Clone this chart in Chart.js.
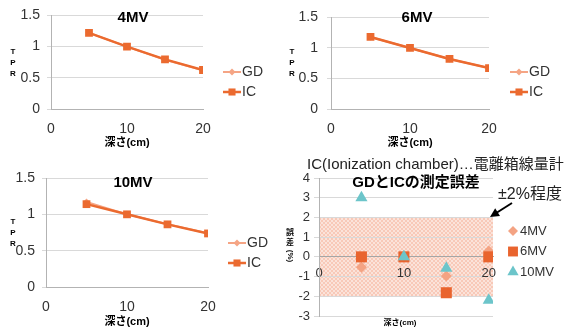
<!DOCTYPE html>
<html>
<head>
<meta charset="utf-8">
<script src="https://cdn.jsdelivr.net/npm/chart.js@4.4.1/dist/chart.umd.min.js"></script>
<style>
body { margin: 0; background: #fff; width: 569px; height: 331px; position: relative; overflow: hidden; }
canvas { position: absolute; }
</style>
</head>
<body>
<canvas id="tpr4" width="285" height="150" style="left:0;top:0"></canvas>
<canvas id="tpr6" width="284" height="150" style="left:285px;top:0"></canvas>
<canvas id="tpr10" width="285" height="181" style="left:0;top:150px"></canvas>
<canvas id="errChart" width="284" height="181" style="left:285px;top:150px"></canvas>
<script>
// depth (cm) and tick values
const depths = [5, 10, 15, 20];
const xTicks = [0, 10, 20];
const tprTicks = [0, 0.5, 1, 1.5];
const errTicks = [-3, -2, -1, 0, 1, 2, 3, 4];

// TPR
const tprGD4 = [1.22, 1.00, 0.79, 0.62];
const tprIC4 = [1.22, 1.00, 0.795, 0.625];
const tprGD6 = [1.18, 1.00, 0.82, 0.67];
const tprIC6 = [1.18, 1.00, 0.82, 0.67];
const tprGD10 = [1.17, 1.00, 0.865, 0.74];
const tprIC10 = [1.14, 1.00, 0.862, 0.737];

// GD vs IC error (%)
const err4 = [-0.53, 0.0, -0.97, 0.30];
const err6 = [0.0, 0.0, -1.82, 0.0];
const err10 = [3.0, 0.0, -0.58, -2.2];
const bandLimits = [-2, 2];

const FAM = "'Liberation Sans', 'Noto Sans CJK JP', Arial, sans-serif";
const TXT = '#333';
const GRID = '#d9d9d9';
const AXIS = '#b3b3b3';
const GD_COLOR = '#F5A585';
const IC_COLOR = '#EB6A2F';
const C4 = '#F4A383', C6 = '#E9642E', C10 = '#6CC5CA';

const pts = ys => depths.map((x, i) => ({ x: x, y: ys[i] }));
const fixTicks = vals => s => { s.ticks = vals.map(v => ({ value: v })); };

function drawMarker(ctx, style, x, y, r) {
    ctx.beginPath();
    if (style === 'rect') {
        const h = r * Math.SQRT1_2;
        ctx.rect(x - h, y - h, 2 * h, 2 * h);
    } else if (style === 'rectRot') {
        ctx.moveTo(x, y - r); ctx.lineTo(x + r, y); ctx.lineTo(x, y + r); ctx.lineTo(x - r, y);
        ctx.closePath();
    } else {
        const a = 2 * Math.PI / 3;
        ctx.moveTo(x, y - r);
        ctx.lineTo(x + Math.sin(a) * r, y - Math.cos(a) * r);
        ctx.lineTo(x + Math.sin(2 * a) * r, y - Math.cos(2 * a) * r);
        ctx.closePath();
    }
    ctx.fill();
}

// legend to the right of the plot
const sideLegend = {
    id: 'sideLegend',
    afterDraw(chart, args, opts) {
        const ctx = chart.ctx;
        ctx.save();
        chart.data.datasets.forEach((ds, i) => {
            const y = opts.y + i * opts.gap;
            let tx = opts.x;
            if (opts.lineLen) {
                ctx.strokeStyle = ds.borderColor;
                ctx.lineWidth = ds.borderWidth;
                ctx.beginPath();
                ctx.moveTo(opts.x, y);
                ctx.lineTo(opts.x + opts.lineLen, y);
                ctx.stroke();
                ctx.fillStyle = ds.backgroundColor;
                drawMarker(ctx, ds.pointStyle, opts.x + opts.lineLen / 2, y, opts.radius[i]);
                tx = opts.x + opts.lineLen + 1;
            } else {
                ctx.fillStyle = ds.backgroundColor;
                drawMarker(ctx, ds.pointStyle, opts.x, y, opts.radius[i]);
                tx = opts.x + 7;
            }
            ctx.fillStyle = TXT;
            ctx.font = opts.font;
            ctx.textAlign = 'left';
            ctx.textBaseline = 'middle';
            ctx.fillText(ds.label, tx, y);
        });
        ctx.restore();
    }
};

// free text and the arrow
const notes = {
    id: 'notes',
    afterDraw(chart, args, opts) {
        const ctx = chart.ctx;
        ctx.save();
        (opts.items || []).forEach(n => {
            ctx.save();
            ctx.font = n.f;
            ctx.fillStyle = n.c || '#000';
            ctx.textAlign = n.a || 'center';
            ctx.textBaseline = 'middle';
            ctx.translate(n.x, n.y);
            if (n.rot) ctx.rotate(n.rot);
            ctx.fillText(n.t, 0, 0);
            ctx.restore();
        });
        if (opts.arrow) {
            const [x1, y1, x2, y2] = opts.arrow;
            const ang = Math.atan2(y2 - y1, x2 - x1);
            ctx.strokeStyle = '#000';
            ctx.fillStyle = '#000';
            ctx.lineWidth = 2;
            ctx.beginPath();
            ctx.moveTo(x1, y1);
            ctx.lineTo(x2 - 6 * Math.cos(ang), y2 - 6 * Math.sin(ang));
            ctx.stroke();
            ctx.beginPath();
            ctx.moveTo(x2, y2);
            ctx.lineTo(x2 - 9 * Math.cos(ang) + 4.5 * Math.sin(ang), y2 - 9 * Math.sin(ang) - 4.5 * Math.cos(ang));
            ctx.lineTo(x2 - 9 * Math.cos(ang) - 4.5 * Math.sin(ang), y2 - 9 * Math.sin(ang) + 4.5 * Math.cos(ang));
            ctx.closePath();
            ctx.fill();
        }
        ctx.restore();
    }
};

// shaded ±2% band
const band = {
    id: 'band',
    beforeDraw(chart, args, opts) {
        const { ctx, chartArea } = chart;
        const ys = chart.scales.y;
        const top = ys.getPixelForValue(opts.limits[1]);
        const bottom = ys.getPixelForValue(opts.limits[0]);
        const c = document.createElement('canvas');
        c.width = 4; c.height = 4;
        const g = c.getContext('2d');
        g.fillStyle = '#F8C9B8';
        g.fillRect(0, 0, 4, 4);
        g.fillStyle = '#FBE3DA';
        g.fillRect(0, 0, 2, 2);
        g.fillRect(2, 2, 2, 2);
        ctx.save();
        ctx.fillStyle = ctx.createPattern(c, 'repeat');
        ctx.fillRect(chartArea.left, top, chartArea.right - chartArea.left, bottom - top);
        ctx.restore();
    }
};

function tprLetters(x, y0) {
    return ['T', 'P', 'R'].map((t, i) => ({ t: t, x: x, y: y0 + i * 11, f: "bold 8px " + FAM }));
}

function makeTpr(id, title, gd, ic, L) {
    return new Chart(document.getElementById(id), {
        type: 'line',
        data: {
            datasets: [
                { label: 'GD', data: pts(gd), borderColor: GD_COLOR, backgroundColor: GD_COLOR, borderWidth: 2,
                  pointStyle: 'rectRot', pointRadius: 3.5, pointBorderWidth: 0, order: 1 },
                { label: 'IC', data: pts(ic), borderColor: IC_COLOR, backgroundColor: IC_COLOR, borderWidth: 2.5,
                  pointStyle: 'rect', pointRadius: 5.5, pointBorderWidth: 0, order: 0 }
            ]
        },
        options: {
            responsive: false,
            animation: false,
            layout: { padding: { left: 0, top: L.top, right: L.right, bottom: 0 } },
            scales: {
                x: {
                    type: 'linear', min: 0, max: 20,
                    afterBuildTicks: fixTicks(xTicks),
                    afterFit: s => { s.height = L.xh; },
                    grid: { display: false, drawTicks: false },
                    border: { color: AXIS },
                    ticks: { padding: L.xpad, color: TXT, font: { size: 14, family: FAM }, maxRotation: 0 },
                    title: { display: true, text: '深さ(cm)', color: '#000',
                             font: { size: 11, weight: 'bold', family: FAM }, padding: { top: 0, bottom: L.tpad } }
                },
                y: {
                    min: 0, max: 1.5,
                    afterBuildTicks: fixTicks(tprTicks),
                    afterFit: s => { s.width = L.left; },
                    grid: { color: GRID, tickLength: 4 },
                    border: { color: AXIS },
                    ticks: { padding: L.ypad, color: TXT, font: { size: 14, family: FAM }, callback: v => String(v) }
                }
            },
            plugins: {
                legend: { display: false },
                tooltip: { enabled: false },
                sideLegend: { x: L.lx, y: L.ly, gap: 20, lineLen: 18, radius: [3.5, 5], font: "14px " + FAM },
                notes: { items: [{ t: title, x: L.tx, y: L.ty, f: "bold 15px " + FAM }].concat(tprLetters(L.px, L.py)) }
            }
        },
        plugins: [sideLegend, notes]
    });
}

makeTpr('tpr4', '4MV', tprGD4, tprIC4,
    { top: 14, right: 82, left: 51, xh: 41, xpad: 12, tpad: 0, ypad: 7, lx: 223, ly: 72, tx: 133, ty: 18, px: 13, py: 52 });
makeTpr('tpr6', '6MV', tprGD6, tprIC6,
    { top: 14, right: 80, left: 46, xh: 41, xpad: 12, tpad: 0, ypad: 9, lx: 225, ly: 72, tx: 132, ty: 18, px: 7, py: 52 });
makeTpr('tpr10', '10MV', tprGD10, tprIC10,
    { top: 28, right: 77, left: 46, xh: 44, xpad: 12, tpad: 2, ypad: 7, lx: 228, ly: 93, tx: 133, ty: 33, px: 13, py: 72 });

new Chart(document.getElementById('errChart'), {
    type: 'scatter',
    data: {
        datasets: [
            { label: '4MV', data: pts(err4), backgroundColor: C4, borderColor: C4, pointStyle: 'rectRot', pointRadius: 5.5, pointBorderWidth: 0, order: 2 },
            { label: '6MV', data: pts(err6), backgroundColor: C6, borderColor: C6, pointStyle: 'rect', pointRadius: 7.8, pointBorderWidth: 0, order: 1 },
            { label: '10MV', data: pts(err10), backgroundColor: C10, borderColor: C10, pointStyle: 'triangle', pointRadius: 7, pointBorderWidth: 0, order: 0 }
        ]
    },
    options: {
        responsive: false,
        animation: false,
        layout: { padding: { left: 0, top: 28, right: 76, bottom: 15 } },
        scales: {
            x: {
                type: 'linear', min: 0, max: 20.5,
                position: { y: 0 },
                afterBuildTicks: fixTicks(xTicks),
                grid: { display: false, drawTicks: false },
                border: { color: '#a6a6a6' },
                ticks: { padding: 9, color: TXT, font: { size: 13, family: FAM }, maxRotation: 0 }
            },
            y: {
                min: -3, max: 4,
                afterBuildTicks: fixTicks(errTicks),
                afterFit: s => { s.width = 34; },
                grid: { color: GRID, tickLength: 5 },
                border: { color: AXIS },
                ticks: { padding: 4, color: TXT, font: { size: 13, family: FAM } }
            }
        },
        plugins: {
            legend: { display: false },
            tooltip: { enabled: false },
            band: { limits: bandLimits },
            sideLegend: { x: 228, y: 81, gap: 20.5, radius: [5, 7, 6.5], font: "13px " + FAM },
            notes: {
                items: [
                    { t: 'IC(Ionization chamber)…電離箱線量計', x: 22, y: 15, a: 'left', f: "15px " + FAM, c: '#222' },
                    { t: 'GDとICの測定誤差', x: 131, y: 33, f: "bold 15px " + FAM },
                    { t: '±2%程度', x: 213, y: 45, a: 'left', f: "16px " + FAM, c: '#222' },
                    { t: '誤', x: 5, y: 83, f: "bold 8px " + FAM },
                    { t: '差', x: 5, y: 93, f: "bold 8px " + FAM },
                    { t: '(%)', x: 5, y: 106, f: "bold 8px " + FAM, rot: Math.PI / 2 },
                    { t: '深さ(cm)', x: 115, y: 173, f: "bold 8px " + FAM }
                ],
                arrow: [227, 53, 205, 67]
            }
        }
    },
    plugins: [band, sideLegend, notes]
});
</script>
</body>
</html>
